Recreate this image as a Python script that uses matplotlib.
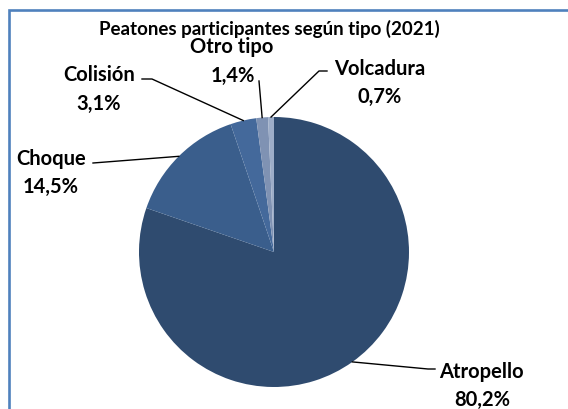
import numpy as np
import matplotlib.pyplot as plt

# Data
labels = ["Atropello", "Choque", "Colisión", "Otro tipo", "Volcadura"]
values = [80.2, 14.5, 3.1, 1.4, 0.7]
pct_text = ["80,2%", "14,5%", "3,1%", "1,4%", "0,7%"]
colors = ["#2F4B6F", "#3A5E8C", "#44699B", "#7F92B3", "#9DADC8"]
title = "Peatones participantes según tipo (2021)"

W, H = 568, 410
plt.rcParams["font.family"] = ["Lato", "DejaVu Sans"]

fig = plt.figure(figsize=(W / 100, H / 100), dpi=100)
ax = fig.add_axes([0, 0, 1, 1])


def Y(py):
    # pixel row -> data y
    return H - py


cx, cy, r = 274, Y(253), 135
wedges, _ = ax.pie(values, colors=colors, startangle=90, counterclock=False,
                   center=(cx, cy), radius=r, frame=True,
                   wedgeprops=dict(linewidth=0))
ax.set_xlim(0, W)
ax.set_ylim(0, H)
ax.set_aspect("equal")
ax.axis("off")

# blue frame: only left and top edges fall inside the picture
ax.plot([8.5, 8.5, W], [0, Y(11), Y(11)], color="#4F81BD", lw=1.9,
        solid_joinstyle="miter", zorder=0)

ax.text(269, Y(29), title, ha="center", va="center", fontsize=13.5,
        fontweight="bold")

# label text centres (name, percent) and leader-line knees in pixels
label_pos = {
    "Atropello": ((481, 370), (482, 398)),
    "Choque": ((51, 157), (51, 185)),
    "Colisión": ((99, 73), (99, 102)),
    "Otro tipo": ((232, 45), (233, 74)),
    "Volcadura": ((380, 67), (380, 95)),
}
knees = {
    "Atropello": [(428, 370), (435, 370)],
    "Choque": [(93, 164)],
    "Colisión": [(152, 80), (142, 80)],
    "Otro tipo": [(259, 82)],
    "Volcadura": [(319, 72), (327, 72)],
}

for w, lab, pct in zip(wedges, labels, pct_text):
    ang = np.deg2rad((w.theta1 + w.theta2) / 2)
    ex, ey = cx + r * np.cos(ang), cy + r * np.sin(ang)
    xs = [ex] + [k[0] for k in knees[lab]]
    ys = [ey] + [Y(k[1]) for k in knees[lab]]
    ax.plot(xs, ys, color="black", lw=1.0, zorder=3)
    (nx, ny), (px, py) = label_pos[lab]
    ax.text(nx, Y(ny), lab, ha="center", va="center_baseline",
            fontsize=14.5, fontweight="bold")
    ax.text(px, Y(py), pct, ha="center", va="center_baseline",
            fontsize=14.5, fontweight="bold")

fig.savefig("out.png", dpi=100)
